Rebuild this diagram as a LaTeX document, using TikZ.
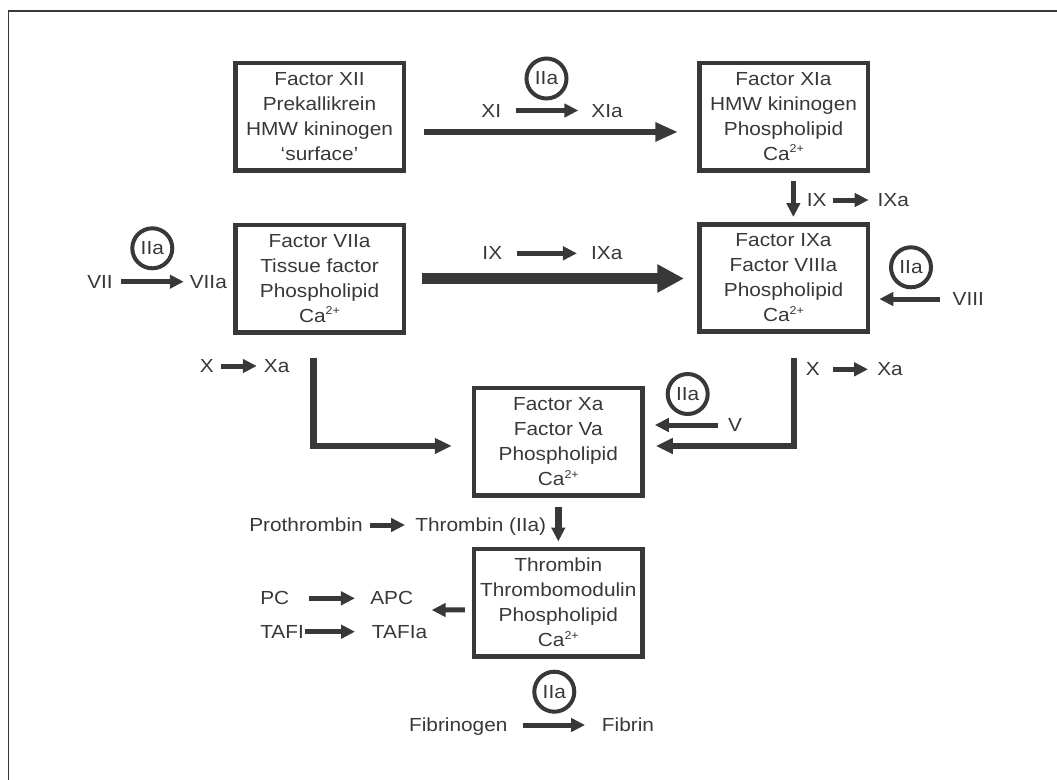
\documentclass[tikz,border=0pt]{standalone}
\usepackage{fontspec}
\setmainfont{Liberation Sans}[FakeStretch=1.1]
\usetikzlibrary{arrows.meta}
\definecolor{ink}{RGB}{56,56,56}
\newcommand{\ion}[1]{\raisebox{0.75ex}{\fontsize{8.5}{8}\selectfont #1}}

\begin{document}
\begin{tikzpicture}[
          x=0.75pt, y=-0.75pt,
          every node/.style={text=ink,font=\fontsize{14.2}{18.75}\selectfont},
          box/.style={draw=ink,line width=3.4pt,minimum width=126.4pt,minimum height=80.6pt,align=center,inner sep=0pt},
          ring/.style={draw=ink,circle,line width=3pt,minimum size=30pt,inner sep=0pt},
          lbl/.style={inner sep=0pt,text height=10pt,text depth=0pt},
          flow/.style={draw=ink,line width=4.5pt,-{Triangle[length=17pt,width=13.5pt]}},
          heavy/.style={draw=ink,line width=8.8pt,-{Triangle[length=20pt,width=20pt]}},
          elbow/.style={draw=ink,line width=5pt,-{Triangle[length=12.75pt,width=11.25pt]}},
          react/.style={draw=ink,line width=3.75pt,-{Triangle[length=10.5pt,width=10pt]}},
        ]

        \useasboundingbox (0, 0) rectangle (1057, 779);
        \draw[ink, line width=1pt] (8.5, 800) |- (1080, 11);

        \path (319.5, 116.5) node[box] (contact) {Factor XII\\Prekallikrein\\HMW kininogen\\‘surface’};
        \path (783.5, 116.5) node[box] (fxia) {Factor XIa\\HMW kininogen\\Phospholipid\\Ca\ion{2+}};
        \path (319.5, 278.5) node[box] (tf) {Factor VIIa\\Tissue factor\\Phospholipid\\Ca\ion{2+}};
        \path (783.5, 278) node[box] (tenase) {Factor IXa\\Factor VIIIa\\Phospholipid\\Ca\ion{2+}};
        \path (558.3, 441.7) node[box] (prothr) {Factor Xa\\Factor Va\\Phospholipid\\Ca\ion{2+}};
        \path (558.3, 602.5) node[box] (tmod) {Thrombin\\Thrombomodulin\\Phospholipid\\Ca\ion{2+}};

        \path (546.5, 78.5) node[ring] (iiaxi) {IIa};
        \path (152.3, 248.3) node[ring] (iiavii) {IIa};
        \path (911, 267.3) node[ring] (iiaviii) {IIa};
        \path (687.7, 394) node[ring] (iiav) {IIa};
        \path (554.3, 691.7) node[ring] (iiafib) {IIa};

        \path (491.3, 110.5) node[lbl] (xi) {XI};
        \path (607, 110.5) node[lbl] (xia) {XIa};
        \path (100, 281.7) node[lbl] (vii) {VII};
        \path (208.3, 281.7) node[lbl] (viia) {VIIa};
        \path (492.3, 253.3) node[lbl] (ixm) {IX};
        \path (606.7, 253.3) node[lbl] (ixam) {IXa};
        \path (816.7, 200) node[lbl] (ixr) {IX};
        \path (893.3, 200) node[lbl] (ixar) {IXa};
        \path (968.3, 299) node[lbl] (viii) {VIII};
        \path (206.7, 366) node[lbl] (xl) {X};
        \path (276.7, 366) node[lbl] (xal) {Xa};
        \path (812.7, 369.3) node[lbl] (xr) {X};
        \path (890, 369.3) node[lbl] (xar) {Xa};
        \path (735, 425) node[lbl] (v) {V};
        \path (306, 525) node[lbl] (pro) {Prothrombin};
        \path (480.8, 525) node[lbl] (thr) {Thrombin (IIa)};
        \path (260, 598.3) node[lbl, anchor=west] (pc) {PC};
        \path (370, 598.3) node[lbl, anchor=west] (apc) {APC};
        \path (260, 631.7) node[lbl, anchor=west] (tafi) {TAFI};
        \path (371.7, 631.7) node[lbl, anchor=west] (tafia) {TAFIa};
        \path (458.3, 725) node[lbl] (fgen) {Fibrinogen};
        \path (601.7, 725) node[lbl, anchor=west] (fib) {Fibrin};
        \coordinate (lysis) at (431.7, 610);

        \draw[flow, shorten <=13.5pt, shorten >=14.25pt] ([yshift=-11.6pt]contact.east) -- ([yshift=-11.6pt]fxia.west);
        \draw[heavy, shorten <=12.2pt, shorten >=9.75pt] (tf.east) -- (tf.east -| tenase.west);
        \draw[react, shorten <=6pt, shorten >=3.75pt] ([xshift=7.4pt]fxia.south) -- ([xshift=7.4pt]tenase.north);
        \draw[elbow, shorten <=17.25pt, shorten >=15pt] ([xshift=-4.6pt]tf.south) |- ([yshift=-3.2pt]prothr.west);
        \draw[elbow, shorten <=18pt, shorten >=8.25pt] ([xshift=7.9pt]tenase.south) |- ([yshift=-3.2pt]prothr.east);
        \draw[react, shorten <=7.5pt, shorten >=7.5pt] (v.west) -- (v.west -| prothr.east);
        \draw[react, shorten <=9.25pt, shorten >=7pt] (viii.west) -- (viii.west -| tenase.east);
        \draw[react, line width=5.25pt, shorten <=6.75pt, shorten >=3.75pt] (prothr) -- (tmod);
        \draw[react, shorten <=5.25pt] ([yshift=-5.6pt]tmod.west) -- (lysis);

        \draw[react, shorten <=10.8pt, shorten >=9.6pt] (xi.east) -- (xia.west);
        \draw[react, shorten <=6.3pt, shorten >=4.3pt] (vii.east) -- (viia.west);
        \draw[react, shorten <=10.6pt, shorten >=10.4pt] (ixm.east) -- (ixam.west);
        \draw[react, shorten <=4.8pt, shorten >=6.6pt] (ixr.east) -- (ixar.west);
        \draw[react, shorten <=5.2pt, shorten >=5.2pt] (xl.east) -- (xal.west);
        \draw[react, shorten <=9.9pt, shorten >=6.7pt] (xr.east) -- (xar.west);
        \draw[react, shorten <=5pt, shorten >=7.6pt] (pro.east) -- (thr.west);
        \draw[react, shorten <=14.3pt, shorten >=11.3pt] (pc.east) -- (apc.west);
        \draw[react, shorten <=0.4pt, shorten >=12.5pt] (tafi.east) -- (tafia.west);
        \draw[react, shorten <=11.5pt, shorten >=12.5pt] (fgen.east) -- (fib.west);

      \end{tikzpicture}
\end{document}
